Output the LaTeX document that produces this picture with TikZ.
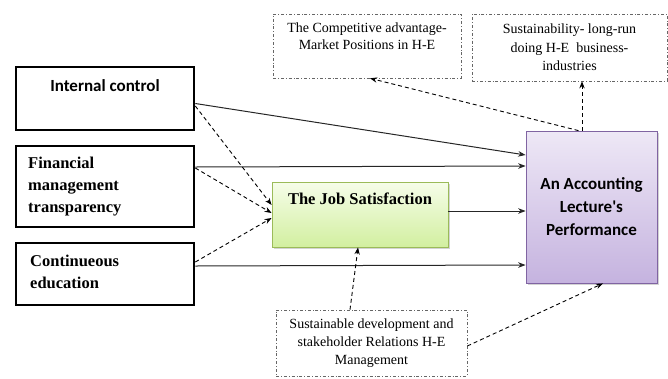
\documentclass[tikz,border=0pt]{standalone}
\usepackage{fontspec}
\setmainfont{Liberation Serif}
\newfontfamily\calibri{Carlito}
\newfontfamily\timesfont{Liberation Serif}
\usetikzlibrary{positioning}
\usetikzlibrary{calc}
\usetikzlibrary{arrows.meta}
\usetikzlibrary{shadows}
\definecolor{jsborder}{HTML}{9BBB59}
\definecolor{jstop}{HTML}{F6FDE9}
\definecolor{jsbottom}{HTML}{D2EFA0}
\definecolor{perfborder}{HTML}{8064A2}
\definecolor{perftop}{HTML}{EEE8F6}
\definecolor{perfbottom}{HTML}{C5B3DF}
\newcommand{\lefttextlines}[1]{{\timesfont\bfseries\fontsize{16.5}{22}\selectfont\begin{tabular}{@{}l@{}}#1\end{tabular}}}

\begin{document}
\begin{tikzpicture}[x=1pt,y=-1pt,>=Stealth,
		leftbox/.style={draw, line width=2.6pt, minimum width=178pt},
		lefttext/.style={anchor=west, inner sep=0pt},
		dashbox/.style={draw, gray!80!black, line width=0.6pt, dash pattern=on 3pt off 2pt on 0.8pt off 2pt, text=black, align=center, font=\timesfont\fontsize{14}{18}\selectfont},
		solidarrow/.style={->, line width=1pt, black!85},
		dasharrow/.style={->, line width=0.9pt, dash pattern=on 4pt off 3pt}]
				\useasboundingbox (0,0) rectangle (668,378);
				
				% draw input boxes
				\node[leftbox, minimum height=63pt] (ic) at (105,98.5) {};
				\node[font=\fontsize{17}{20}\selectfont\calibri\bfseries] (ictext) at (105,86) {Internal control};
				\node[leftbox, minimum height=81pt] (fmt) at (105,186.5) {};
				\node[lefttext] (fmttext) at (28,186) {\lefttextlines{Financial\\management\\transparency}};
				\node[leftbox, minimum height=62pt] (ce) at (105,274) {};
				\node[lefttext] (cetext) at (30,273.5) {\lefttextlines{Continueous\\education}};
				
				% draw job satisfaction
				\node[draw=jsborder, line width=0.8pt, top color=jstop, bottom color=jsbottom, minimum width=176pt, minimum height=65pt, drop shadow={shadow xshift=1.5pt, shadow yshift=-1.5pt, opacity=0.35}] (js) at (360,214.5) {};
				\node[font=\timesfont\bfseries\fontsize{16.5}{20}\selectfont] (jstext) at (360,199) {The Job Satisfaction};
				
				% draw performance
				\node[draw=perfborder, line width=0.8pt, top color=perftop, bottom color=perfbottom, minimum width=131pt, minimum height=152pt, align=center, font=\fontsize{17}{23}\selectfont\calibri\bfseries, drop shadow={shadow xshift=1.5pt, shadow yshift=-1.5pt, opacity=0.35}] (perf) at (591.5,207) {An Accounting\\Lecture's\\Performance};
				
				% draw outcome boxes
				\node[dashbox, minimum width=188pt, minimum height=64pt] (comp) at (367,46) {};
				\node[font=\timesfont\fontsize{14}{16.5}\selectfont, align=center] (comptext) at (367,36) {The Competitive advantage-\\Market Positions in H-E};
				\node[dashbox, minimum width=195pt, minimum height=67pt, font=\timesfont\fontsize{14}{18.5}\selectfont] (sust) at (569.5,47.5) {Sustainability- long-run\\doing H-E\ \ business-\\industries};
				\node[dashbox, minimum width=191pt, minimum height=66pt] (sdm) at (371.5,343) {Sustainable development and\\stakeholder Relations H-E\\Management};
				
				% draw direct effects
				\draw[solidarrow] ([yshift=-5pt]ic.east) -- ([yshift=52pt]perf.west);
				\draw[solidarrow] ([yshift=19.5pt]fmt.east) -- ([yshift=41pt]perf.west);
				\draw[solidarrow] ([yshift=3.5pt]js.east) -- ([yshift=-4pt]perf.west);
				\draw[solidarrow] ([yshift=8pt]ce.east) -- ([yshift=-58pt]perf.west);
				
				% draw effects on job satisfaction
				\draw[dasharrow] ([yshift=-7.5pt]ic.east) -- ([yshift=9.5pt]js.west);
				\draw[dasharrow] ([yshift=18.5pt]fmt.east) -- ([yshift=1.5pt]js.west);
				\draw[dasharrow] ([yshift=12pt]ce.east) -- ([yshift=-3.5pt]js.west);
				\draw[dasharrow] ([xshift=-21.5pt]sdm.north) -- ([xshift=-2pt]js.south);
				\draw[dasharrow] ([yshift=-3pt]sdm.east) -- ([xshift=11.5pt]perf.south);
				
				% draw outcomes
				\draw[dasharrow] ([xshift=-13pt]perf.north) -- ([xshift=3pt]comp.south);
				\draw[dasharrow] ([xshift=-9.5pt]perf.north) -- ([xshift=12.5pt]sust.south);
			\end{tikzpicture}
\end{document}
